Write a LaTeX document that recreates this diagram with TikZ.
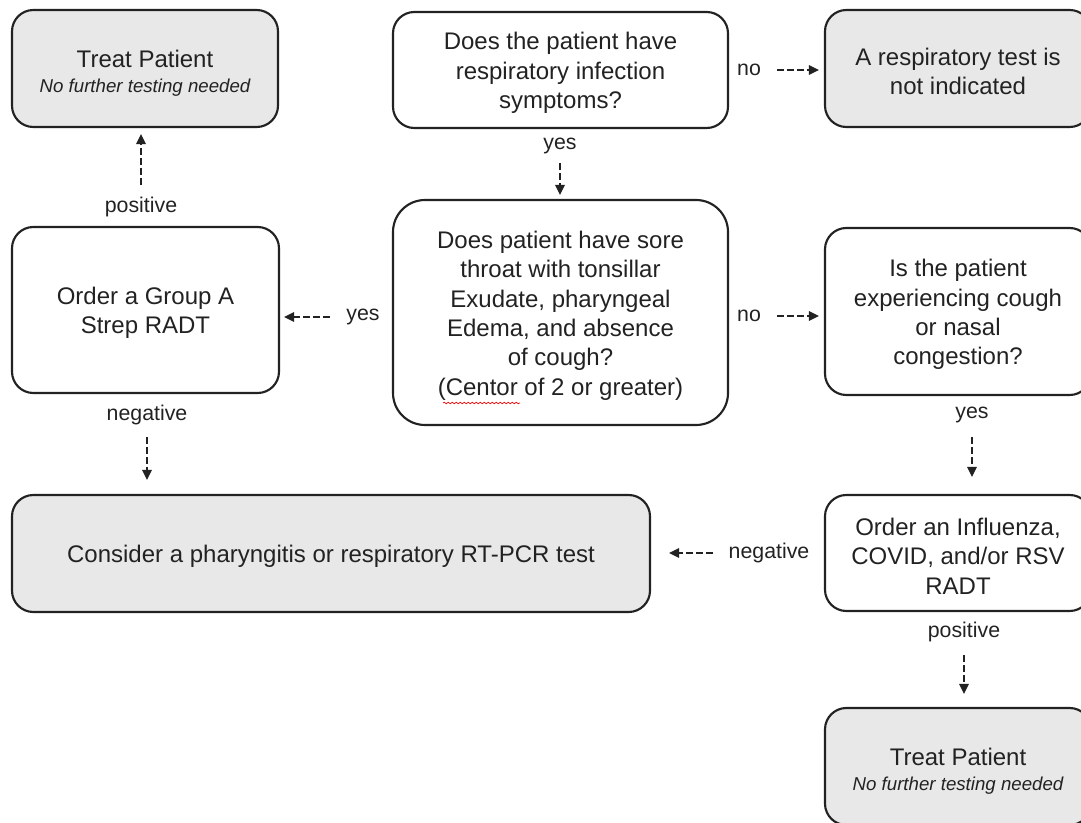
\documentclass[tikz,border=0pt]{standalone}
\usepackage{fontspec}
\setmainfont{Liberation Sans}
\usetikzlibrary{arrows.meta,decorations.pathmorphing}
\definecolor{boxgray}{HTML}{E8E8E8}
\definecolor{ink}{HTML}{222222}
\tikzset{
    box/.style={draw=ink, line width=1.6pt, rounded corners=16pt, align=center, text=ink,
        font=\fontsize{18}{22}\selectfont, inner sep=0pt},
    endbox/.style={box, fill=boxgray},
    lbl/.style={text=ink, font=\fontsize{16}{19}\selectfont, inner sep=0pt},
    flow/.style={draw=ink, line width=1.4pt, dash pattern=on 5.25pt off 2.25pt,
        -{Triangle[length=7.5pt,width=7pt]}}
}
\newcommand{\topstrut}[1][17.5pt]{\rule{0pt}{#1}}
\newcommand{\nofurther}{{\fontsize{14}{17}\selectfont\itshape No further testing needed}}

\begin{document}
\begin{tikzpicture}[x=0.75pt, y=-0.75pt]
            \useasboundingbox (0,0) rectangle (1081,823);
            \clip (0,0) rectangle (1081,823);

            \node[endbox, minimum width=199.5pt, minimum height=87.75pt] (treatA) at (145,68.5) {\topstrut[20pt]Treat Patient\\[-3.25pt]\nofurther};
            \node[box, minimum width=251.25pt, minimum height=87pt] (q1) at (560.5,70) {\topstrut Does the patient have\\respiratory infection\\symptoms?};
            \node[endbox, minimum width=199.5pt, minimum height=87.75pt] (nt) at (958,68.5) {\topstrut A respiratory test is\\not indicated};

            \node[box, minimum width=200.25pt, minimum height=124.5pt] (grpA) at (145.5,310) {\topstrut Order a Group A\\Strep RADT};
            \node[box, rounded corners=24pt, minimum width=251.25pt, minimum height=168.75pt] (q2) at (560.5,312.5) {\topstrut Does patient have sore\\throat with tonsillar\\Exudate, pharyngeal\\Edema, and absence\\of cough?\\(Centor of 2 or greater)};
            \node[box, minimum width=199.5pt, minimum height=125.25pt] (q3) at (958,311.5) {\topstrut Is the patient\\experiencing cough\\or nasal\\congestion?};

            \node[endbox, minimum width=478.5pt, minimum height=87.75pt] (pcr) at (331,553.5) {\topstrut Consider a pharyngitis or respiratory RT-PCR test};
            \node[box, minimum width=199.5pt, minimum height=87pt] (flu) at (958,553) {\topstrut Order an Influenza,\\COVID, and/or RSV\\RADT};
            \node[endbox, minimum width=199.5pt, minimum height=87.75pt] (treatB) at (958,766.5) {\topstrut[20pt]Treat Patient\\[-3.25pt]\nofurther};

            \draw[red, line width=0.5pt, decorate, decoration={snake, amplitude=0.6pt, segment length=3pt}] (443,403) -- (520,403);

            \node[lbl] (no1) at (749,70) {no};
            \node[lbl] (yes1) at (560,146) {yes};
            \node[lbl] (posA) at (141,207) {positive};
            \node[lbl] (yes2) at (363,317) {yes};
            \node[lbl] (no2) at (749,316) {no};
            \node[lbl] (negA) at (147,415) {negative};
            \node[lbl] (yes3) at (972,415) {yes};
            \node[lbl] (negB) at (769,553) {negative};
            \node[lbl] (posB) at (964,632) {positive};

            \foreach \l/\d/\t/\g in {no1/28/nt.west/3.75pt, yes2/-33/grpA.east/3pt, no2/28/q3.west/3.75pt, negB/-56/pcr.east/13.5pt}
                \draw[flow, shorten >=\g] (\l) ++(\d,0) -- (\t |- \l);
            \foreach \l/\d/\t/\g in {yes1/17/q2.north/3pt, posA/-22/treatA.south/4.5pt, negA/22/pcr.north/10.5pt, yes3/22/flu.north/12.75pt, posB/23/treatB.north/9.75pt}
                \draw[flow, shorten >=\g] (\l) ++(0,\d) -- (\l |- \t);
        \end{tikzpicture}
\end{document}
